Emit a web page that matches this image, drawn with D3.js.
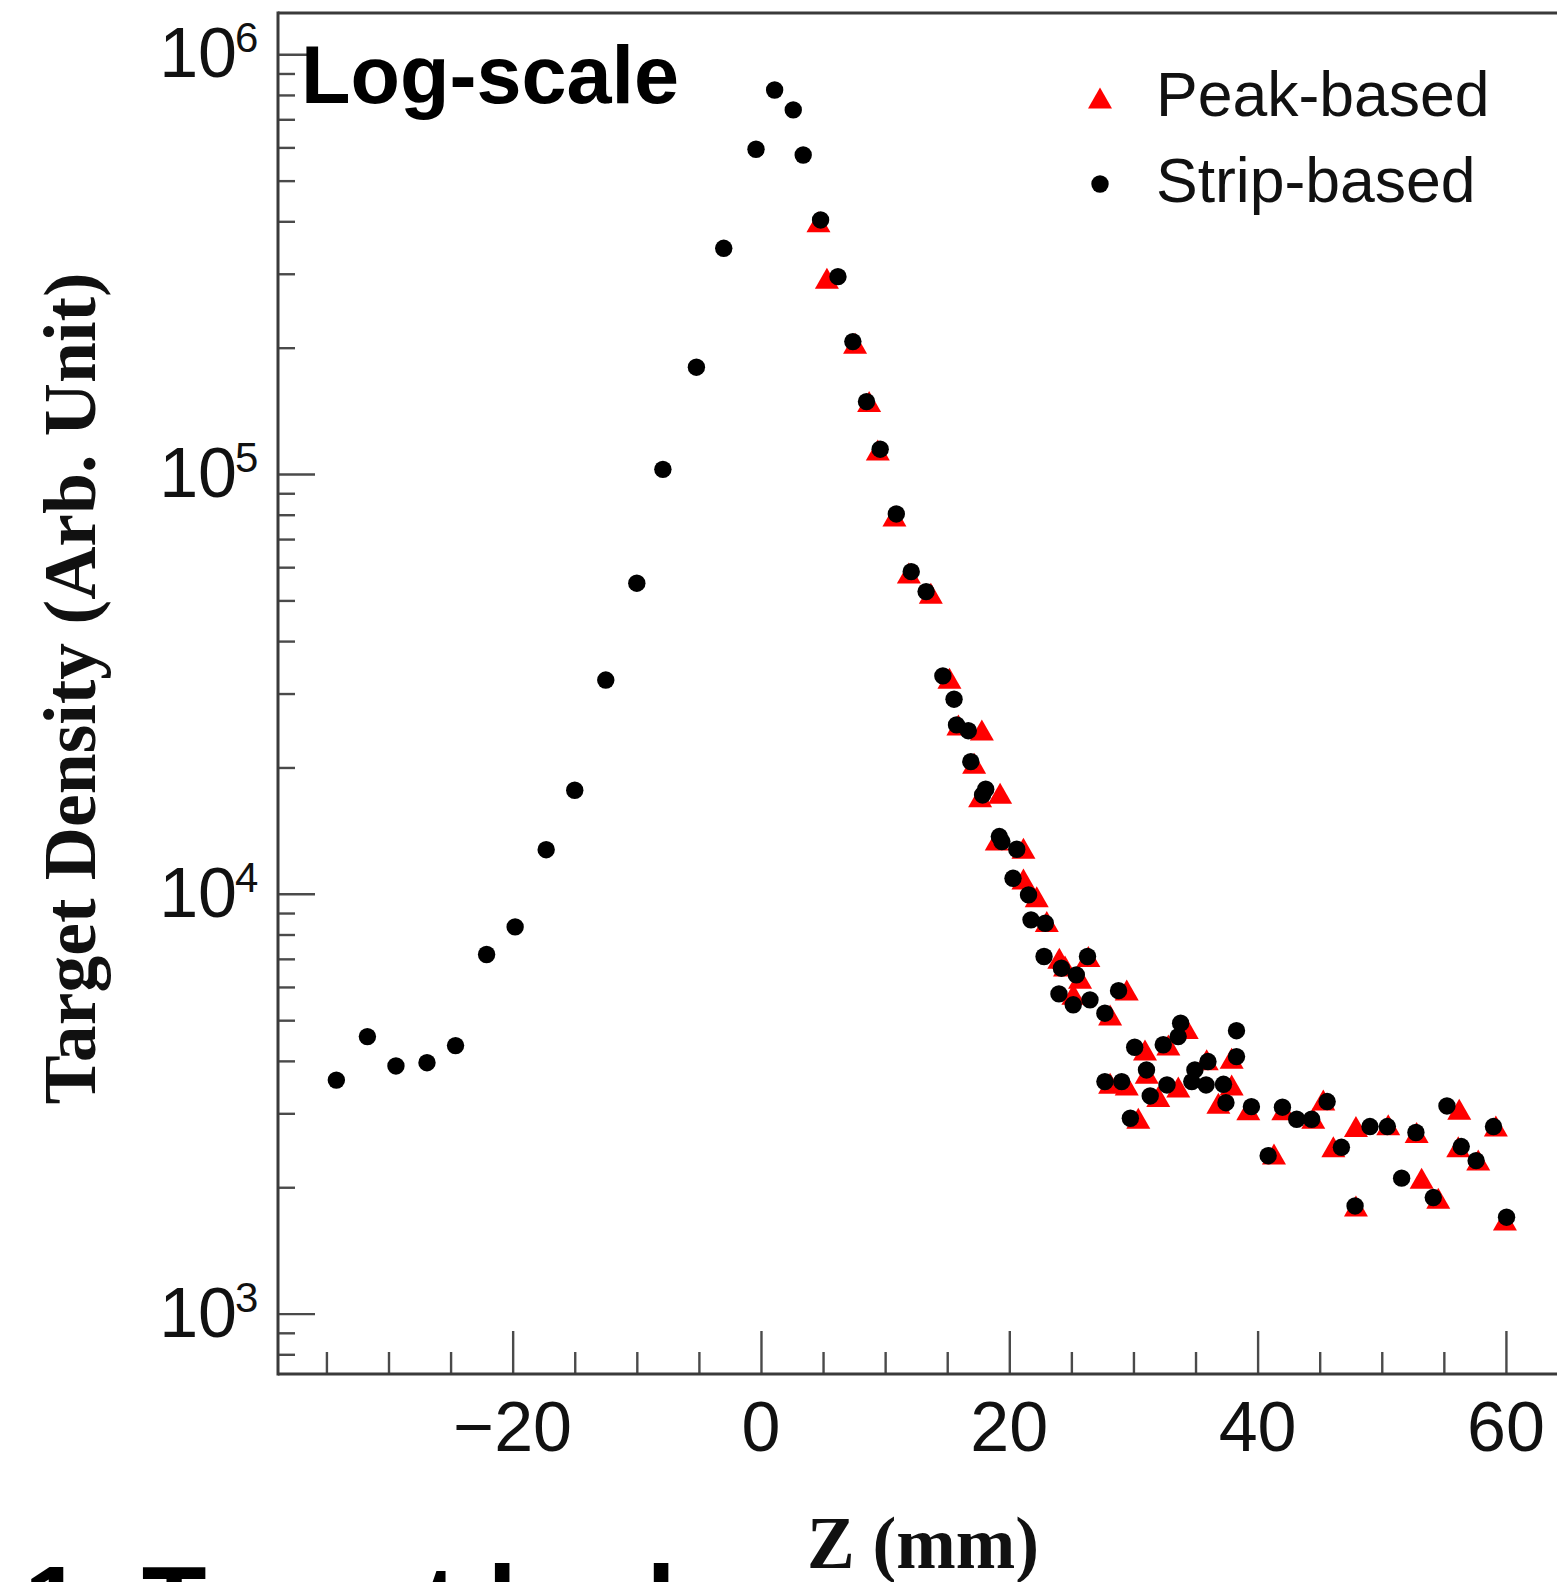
<!DOCTYPE html>
<html><head><meta charset="utf-8">
<script src="https://cdn.jsdelivr.net/npm/d3@7"></script>
<style>html,body{margin:0;padding:0;background:#fff;} svg{display:block;}</style>
</head><body>
<svg id="chart" width="1557" height="1582"></svg>
<script>
// ---- data ----
const stripZ = [-34.2,-31.7,-29.4,-26.9,-24.6,-22.1,-19.8,-17.3,-15.0,-12.5,-10.0,-7.9,-5.2,-3.0,-0.4,1.1,2.6,3.4,4.8,6.2,7.4,8.5,9.6,10.9,12.1,13.3,14.65,15.55,15.75,16.7,16.9,17.85,18.1,19.2,19.4,20.3,20.6,21.55,21.75,22.8,22.9,24.0,24.2,25.15,25.4,26.3,26.5,27.7,27.7,28.8,29.05,29.75,30.1,31.05,31.35,32.4,32.7,33.6,33.8,34.7,34.95,35.85,36.0,37.25,37.45,38.3,38.3,39.5,40.85,42.0,43.15,44.35,45.6,46.75,47.85,49.05,50.45,51.6,52.75,54.15,55.25,56.4,57.6,59.0,60.05];
const stripDensity = [3600,4570,3890,3960,4350,7170,8340,12740,17650,32300,54950,102600,179700,345000,594000,822000,737000,575500,403000,295300,206800,148800,114600,80350,58540,52480,33050,29080,25260,24470,20650,17200,17750,13690,13320,10890,12770,9940,8670,7090,8510,5775,6650,5440,6410,7090,5590,5195,3570,5880,3570,2920,4310,3806,3300,4370,3505,4570,4920,3570,3806,3505,3985,3518,3180,4720,4095,3112,2378,3102,2904,2904,3200,2490,1805,2790,2790,2102,2700,1890,3124,2500,2314,2790,1697];
const peakZ = [4.63,5.31,7.58,8.71,9.41,10.75,11.91,13.68,15.18,15.9,17.17,17.65,17.79,18.99,19.26,21.14,21.14,22.21,23.02,24.03,24.49,25.16,25.7,26.37,28.12,28.12,29.46,29.46,30.39,30.93,31.07,32.0,32.81,33.61,34.29,35.9,36.84,37.91,37.91,39.25,41.32,42.07,44.48,45.29,46.1,47.92,47.92,50.52,52.81,53.21,54.55,56.16,56.24,57.77,59.19,59.92];
const peakDensity = [399200,292700,204900,148800,114100,79470,58130,52030,32630,25260,20470,17040,24570,13440,17360,12840,10850,9847,8587,7024,6730,5764,6296,7087,5147,3538,5903,3505,2920,4248,3739,3288,4366,3468,4778,4022,3171,4059,3505,3059,2400,3059,2920,3229,2499,2790,1805,2816,2701,2102,1883,2499,3069,2323,2800,1672];
const xMajorTicks = [-20, 0, 20, 40, 60];
const xTickLabels = ["\u221220", "0", "20", "40", "60"];
const yMajorTicks = [1e3, 1e4, 1e5, 1e6];
const yTickExponents = ["3", "4", "5", "6"];
const seriesNames = ["Peak-based", "Strip-based"];
const xTitle = "Z (mm)";
const yTitle = "Target Density (Arb. Unit)";
const annotation = "Log-scale";
const footerText = "1. Target bed";

// ---- layout ----
const svg = d3.select("#chart");
const plot = {left: 278, top: 13, bottom: 1374, right: 1568};
const x = d3.scaleLinear().domain([-38.9, 65]).range([plot.left, plot.right]);
const y = d3.scaleLog().domain([718, 1.254e6]).range([plot.bottom, plot.top]);

const axisColor = "#3a3a3a";
const tickColor = "#4a4a4a";
const sans = "'Liberation Sans', Arial, Helvetica, sans-serif";
const serif = "'Liberation Serif', 'Times New Roman', serif";

// minor ticks
const xMinor = d3.range(-35, 66, 5).filter(v => v % 20 !== 0 && x(v) <= plot.right);
const yMinor = [];
[2,3,4,5].forEach(e => { for (let m = 2; m <= 9; m++) { const v = m * Math.pow(10, e); if (v >= y.domain()[0] && v <= y.domain()[1]) yMinor.push(v); } });

function styleAxis(g) {
  g.select(".domain").remove();
  g.selectAll(".tick line").attr("stroke", tickColor).attr("stroke-width", 2.4);
  g.selectAll(".tick text").remove();
}

// x ticks (pointing up, inside)
svg.append("g").attr("transform", `translate(0,${plot.bottom})`)
  .call(d3.axisTop(x).tickValues(xMajorTicks).tickSize(43).tickFormat("")).call(styleAxis);
svg.append("g").attr("transform", `translate(0,${plot.bottom})`)
  .call(d3.axisTop(x).tickValues(xMinor).tickSize(22).tickFormat("")).call(styleAxis);
// y ticks (pointing right, inside)
svg.append("g").attr("transform", `translate(${plot.left},0)`)
  .call(d3.axisRight(y).tickValues(yMajorTicks).tickSize(37).tickFormat("")).call(styleAxis);
svg.append("g").attr("transform", `translate(${plot.left},0)`)
  .call(d3.axisRight(y).tickValues(yMinor).tickSize(17).tickFormat("")).call(styleAxis);

// frame
const frame = svg.append("g").attr("stroke", axisColor).attr("stroke-width", 3).attr("fill", "none");
frame.append("line").attr("x1", plot.left).attr("x2", plot.left).attr("y1", plot.top - 1.5).attr("y2", plot.bottom + 1.5);
frame.append("line").attr("x1", plot.left).attr("x2", plot.right).attr("y1", plot.bottom).attr("y2", plot.bottom);
frame.append("line").attr("x1", plot.left).attr("x2", plot.right).attr("y1", plot.top).attr("y2", plot.top);
frame.append("line").attr("x1", plot.right).attr("x2", plot.right).attr("y1", plot.top).attr("y2", plot.bottom);

// x tick labels
svg.append("g").selectAll("text").data(xMajorTicks).join("text")
  .attr("x", d => x(d)).attr("y", 1451)
  .attr("text-anchor", "middle").attr("font-family", sans).attr("font-size", 70).attr("fill", "#111")
  .text((d, i) => xTickLabels[i]);

// y tick labels 10^n
const yl = svg.append("g").attr("font-family", sans).attr("fill", "#111");
yl.selectAll("text.base").data(yMajorTicks).join("text").attr("class", "base")
  .attr("x", 237).attr("y", d => y(d) + 23).attr("text-anchor", "end").attr("font-size", 70).text("10");
yl.selectAll("text.sup").data(yMajorTicks).join("text").attr("class", "sup")
  .attr("x", 235).attr("y", d => y(d) - 2).attr("text-anchor", "start").attr("font-size", 42)
  .text((d, i) => yTickExponents[i]);

// markers
const triPath = "M0,-10.5L12,10.5L-12,10.5Z";
const peakData = peakZ.map((z, i) => ({z, v: peakDensity[i]}));
const stripData = stripZ.map((z, i) => ({z, v: stripDensity[i]}));
svg.append("g").selectAll("path").data(peakData).join("path")
  .attr("d", triPath).attr("fill", "#ff0000")
  .attr("transform", d => `translate(${x(d.z)},${y(d.v)})`);
svg.append("g").selectAll("circle").data(stripData).join("circle")
  .attr("cx", d => x(d.z)).attr("cy", d => y(d.v)).attr("r", 8.7).attr("fill", "#000");

// legend
const lg = svg.append("g");
lg.append("path").attr("d", triPath).attr("fill", "#ff0000").attr("transform", "translate(1100,98)");
lg.append("circle").attr("cx", 1100).attr("cy", 184).attr("r", 8.7).attr("fill", "#000");
lg.selectAll("text").data(seriesNames).join("text")
  .attr("x", 1156).attr("y", (d, i) => i === 0 ? 116 : 202)
  .attr("font-family", sans).attr("font-size", 62.5).attr("fill", "#111").text(d => d);

// axis titles
svg.append("text").attr("transform", "translate(95,688.5) rotate(-90)")
  .attr("text-anchor", "middle").attr("font-family", serif).attr("font-weight", "bold")
  .attr("font-size", 73).attr("fill", "#111")
  .attr("textLength", 832).attr("lengthAdjust", "spacingAndGlyphs").text(yTitle);
svg.append("text").attr("x", 923).attr("y", 1568)
  .attr("text-anchor", "middle").attr("font-family", serif).attr("font-weight", "bold")
  .attr("font-size", 74).attr("fill", "#111")
  .attr("textLength", 232).attr("lengthAdjust", "spacingAndGlyphs").text(xTitle);

// annotation
svg.append("text").attr("x", 301).attr("y", 103)
  .attr("font-family", sans).attr("font-weight", "bold").attr("font-size", 81).attr("fill", "#000")
  .text(annotation);

// footer (cut off at the bottom edge, as in the reference)
svg.append("text").attr("x", 24).attr("y", 1640)
  .attr("font-family", sans).attr("font-weight", "bold").attr("font-size", 106).attr("fill", "#000")
  .text(footerText);
</script>
</body></html>
